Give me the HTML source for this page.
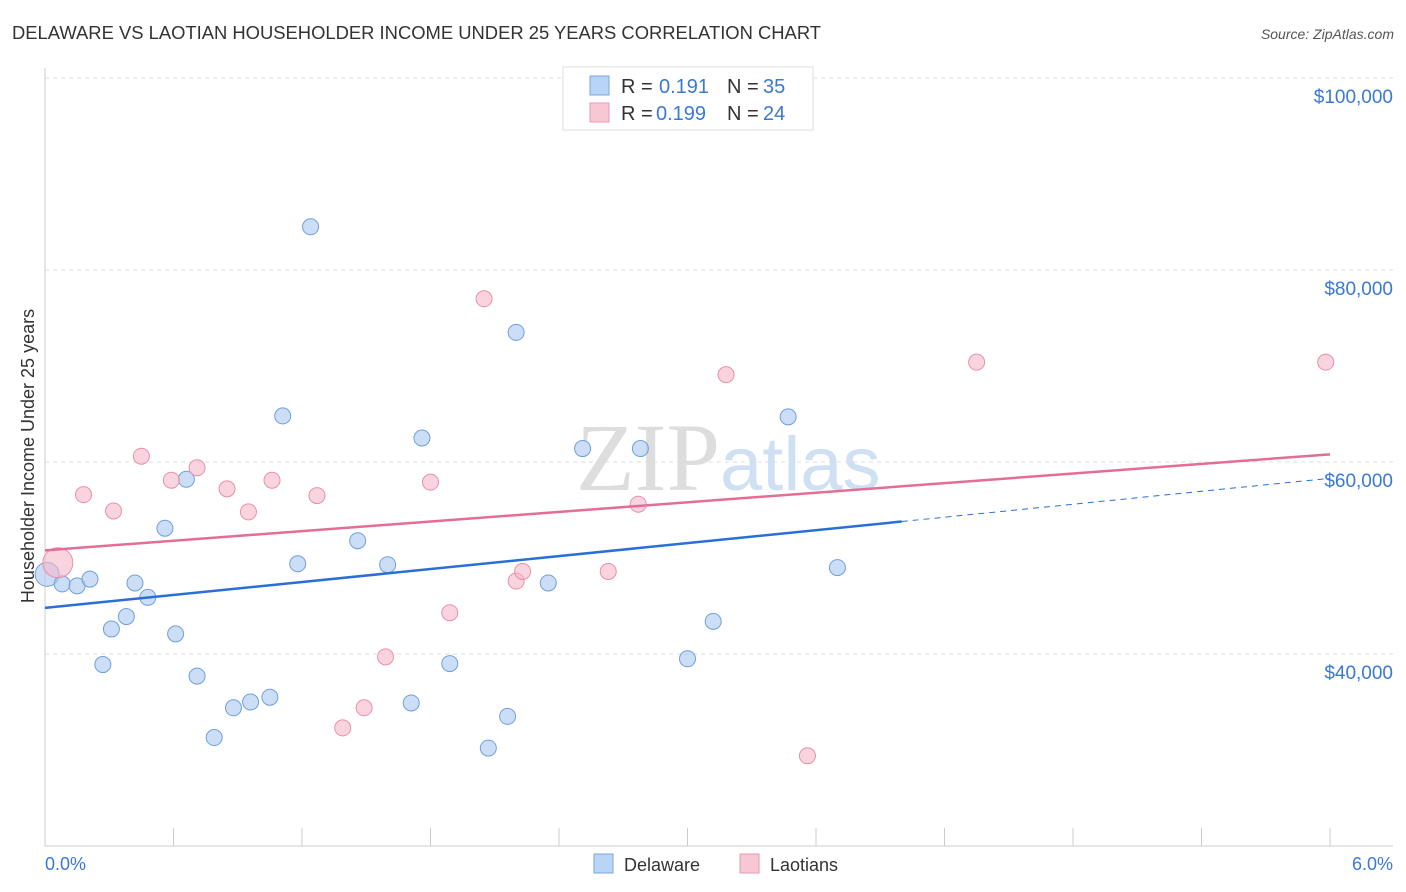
<!DOCTYPE html>
<html><head><meta charset="utf-8"><style>
body{margin:0;background:#fff;font-family:"Liberation Sans",sans-serif;}
svg{display:block}
</style></head><body>
<svg id="c" width="1406" height="892" xmlns="http://www.w3.org/2000/svg">
<text x="12" y="39" font-size="18.4" fill="#333">DELAWARE VS LAOTIAN HOUSEHOLDER INCOME UNDER 25 YEARS CORRELATION CHART</text>
<text x="1394" y="39" font-size="14" fill="#555" font-style="italic" text-anchor="end">Source: ZipAtlas.com</text>
<text x="720" y="490" font-size="96" fill="#ddd" text-anchor="end" font-family="Liberation Serif,serif">ZIP</text>
<text x="720" y="490" font-size="76" fill="#cfe0f3">atlas</text>
<g id="grid"></g><g id="marks"></g>
<text transform="translate(34,456) rotate(-90)" font-size="18" fill="#333" text-anchor="middle">Householder Income Under 25 years</text>
<text x="45" y="870" font-size="18" fill="#3a78d8">0.0%</text>
<text x="1393" y="870" font-size="18" fill="#3a78d8" text-anchor="end">6.0%</text>
<g font-size="20">
<rect x="563" y="67" width="250" height="63" fill="#fff" stroke="#ddd"/>
<rect x="590" y="76" width="19" height="19" fill="#b8d4f6" stroke="#7aa6e0"/>
<text x="621" y="93" fill="#333">R =</text><text x="659" y="93" fill="#3a78d8">0.191</text>
<text x="727" y="93" fill="#333">N =</text><text x="763" y="93" fill="#3a78d8">35</text>
<rect x="590" y="103" width="19" height="19" fill="#f9c6d4" stroke="#e898ae"/>
<text x="621" y="120" fill="#333">R =</text><text x="656" y="120" fill="#3a78d8">0.199</text>
<text x="727" y="120" fill="#333">N =</text><text x="763" y="120" fill="#3a78d8">24</text>
</g>
<g>
<rect x="594" y="854" width="19" height="19" fill="#b8d4f6" stroke="#7aa6e0"/>
<text x="624" y="871" font-size="18" fill="#333">Delaware</text>
<rect x="740" y="854" width="19" height="19" fill="#f9c6d4" stroke="#e898ae"/>
<text x="770" y="871" font-size="18" fill="#333">Laotians</text>
</g>
</svg>
<script>
const yTicks=[40000,60000,80000,100000];
const yTickLabels=["$40,000","$60,000","$80,000","$100,000"];
const blueX=[0.01,0.08,0.15,0.21,0.27,0.31,0.38,0.42,0.48,0.56,0.61,0.66,0.71,0.79,0.88,0.96,1.05,1.11,1.18,1.24,1.46,1.60,1.71,1.76,1.89,2.07,2.16,2.20,2.35,2.51,2.78,3.00,3.12,3.47,3.70];
const blueY=[48.3,47.3,47.1,47.8,38.9,42.6,43.9,47.4,45.9,53.1,42.1,58.2,37.7,31.3,34.4,35.0,35.5,64.8,49.4,84.5,51.8,49.3,34.9,62.5,39.0,30.2,33.5,73.5,47.4,61.4,61.4,39.5,43.4,64.7,49.0];
const pinkX=[0.06,0.18,0.32,0.45,0.59,0.71,0.85,0.95,1.06,1.27,1.39,1.49,1.59,1.80,1.89,2.05,2.20,2.23,2.63,2.77,3.18,3.56,4.35,5.98];
const pinkY=[49.5,56.6,54.9,60.6,58.1,59.4,57.2,54.8,58.1,56.5,32.3,34.4,39.7,57.9,44.3,77.0,47.6,48.6,48.6,55.6,69.1,29.4,70.4,70.4];
const blueTrend=[44.8,58.3];
const pinkTrend=[50.8,60.8];
const blueSolidEnd=4.0;
const X=v=>45+v/6*1285;
const Y=v=>846-(v-20)/80*768;
const NS="http://www.w3.org/2000/svg";
const grid=document.getElementById('grid'),marks=document.getElementById('marks');
function mk(tag,attrs,parent){const e=document.createElementNS(NS,tag);for(const k in attrs)e.setAttribute(k,attrs[k]);parent.appendChild(e);return e;}
yTicks.forEach((t,i)=>{
 const y=Y(t/1000);
 const l=mk('line',{x1:45,x2:1393,y1:y,y2:y,stroke:'#ddd','stroke-dasharray':'4,4'},grid);
 
 
 const tx=mk('text',{x:1393,y:y+25,'font-size':19,fill:'#3a78d8','text-anchor':'end'},grid);
 tx.textContent=yTickLabels[i];
 
 
});
const ax=mk('line',{x1:45,x2:1393,y1:846,y2:846,stroke:'#ccc'},grid);


const ay=mk('line',{x1:45,x2:45,y1:68,y2:846,stroke:'#ccc'},grid);


for(let i=0;i<=10;i++){const x=X(i*0.6);const t=mk('line',{x1:x,x2:x,y1:828,y2:846,stroke:'#ccc'},grid);
 
 }
function dot(x,y,r,fill,stroke,name){const c=mk('circle',{cx:X(x),cy:Y(y),r:r,fill:fill,stroke:stroke,'stroke-width':1,'fill-opacity':0.6},marks);
 
 }
blueX.forEach((x,i)=>dot(x,blueY[i],i==0?12:8,'#a8c8f0','#6f9fdf','delaware-point'));
pinkX.forEach((x,i)=>dot(x,pinkY[i],i==0?15:8,'#f5b8c8','#e890a8','laotians-point'));
const bt=v=>blueTrend[0]+(blueTrend[1]-blueTrend[0])*v/6;
const b1=mk('line',{x1:X(0),y1:Y(bt(0)),x2:X(blueSolidEnd),y2:Y(bt(blueSolidEnd)),stroke:'#2a6fd6','stroke-width':2.5},marks);


const b2=mk('line',{x1:X(blueSolidEnd),y1:Y(bt(blueSolidEnd)),x2:X(6),y2:Y(bt(6)),stroke:'#2a6fd6','stroke-width':1,'stroke-dasharray':'6,5'},marks);


const p1=mk('line',{x1:X(0),y1:Y(pinkTrend[0]),x2:X(6),y2:Y(pinkTrend[1]),stroke:'#e36d95','stroke-width':2.5},marks);


</script>
</body></html>
